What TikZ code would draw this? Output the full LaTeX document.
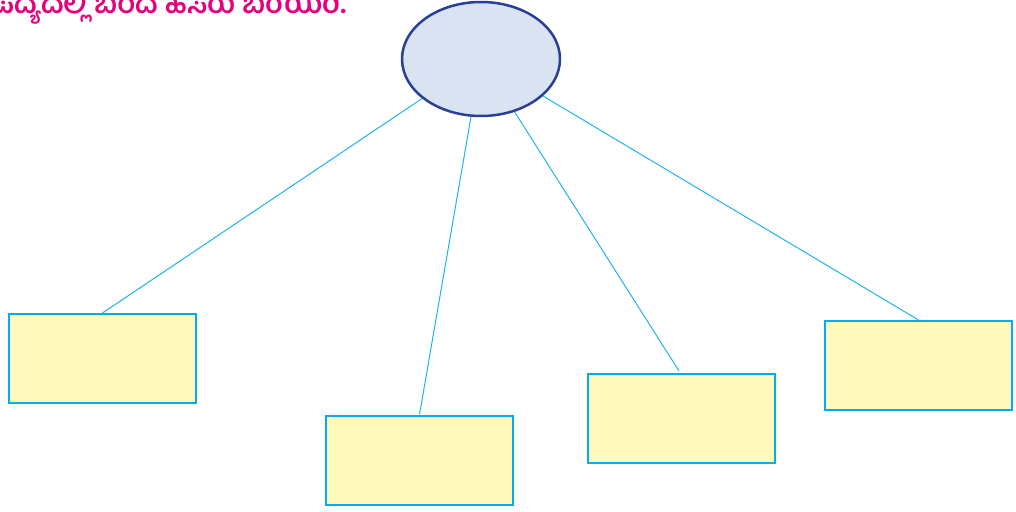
\documentclass[tikz,border=0pt]{standalone}
\usepackage{fontspec}
\newfontfamily\kn[Script=Kannada]{Hind Mysuru}
\usetikzlibrary{shapes.geometric}
\definecolor{ellfill}{HTML}{DAE3F2}
\definecolor{elldraw}{HTML}{2A3F96}
\definecolor{boxfill}{HTML}{FFF9BC}
\definecolor{boxdraw}{HTML}{00AEEF}
\definecolor{linec}{HTML}{1FB3E8}
\definecolor{titlec}{HTML}{E6007E}
\tikzset{
  box/.style={draw=boxdraw, line width=2pt, fill=boxfill, minimum width=187pt, minimum height=89pt, inner sep=0pt},
  hub/.style={ellipse, draw=elldraw, line width=2.5pt, fill=ellfill, minimum width=158pt, minimum height=114pt, inner sep=0pt},
  conn/.style={draw=linec, line width=1pt}
}
\begin{document}
\begin{tikzpicture}[x=1pt,y=-1pt]
\useasboundingbox (0,0) rectangle (1016,511);
\node[font=\kn\bfseries\fontsize{29}{32}\selectfont, text=titlec, anchor=base west, inner sep=0pt] (title) at (-8,14) {ಪದ್ಯದಲ್ಲಿ ಬಂದ ಹೆಸರು ಬರೆಯಿರಿ.};
\node[hub] (e) at (481,59) {};
\node[box] (b1) at (102.5,358.5) {};
\node[box] (b2) at (419.5,460) {};
\node[box] (b3) at (681.5,418.5) {};
\node[box] (b4) at (918.5,365.5) {};
\coordinate (b3end) at (679,371);
\draw[conn] (e) -- (b1.north);
\draw[conn] (e) -- (b2.north);
\draw[conn] (e) -- (b3end);
\draw[conn] (e) -- (b4.north);
\end{tikzpicture}
\end{document}
